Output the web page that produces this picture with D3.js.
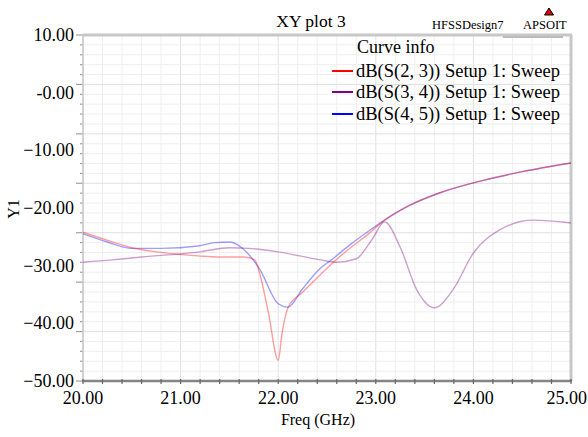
<!DOCTYPE html>
<html>
<head>
<meta charset="utf-8">
<script src="https://cdn.jsdelivr.net/npm/d3@7"></script>
<style>
  body { margin: 0; background: #fff; }
  svg { display: block; }
  .grid line { stroke: #efefef; stroke-width: 1; }
  .grid line.major { stroke: #e0e0e0; }
  .curve { fill: none; stroke-width: 1.4; stroke-opacity: 0.38; }
</style>
</head>
<body>
<div id="chart"></div>
<script>
// series: [freq GHz, dB]
var s23 = [
  [20.0, -24.2], [20.25, -25.6], [20.5, -26.9], [20.8, -27.7], [21.18, -28.3],
  [21.4, -28.5], [21.65, -28.5], [21.76, -29.0], [21.82, -32.0], [21.9, -38.2],
  [22.0, -46.4], [22.04, -41.7], [22.1, -37.3], [22.25, -34.6], [22.43, -31.6],
  [22.56, -29.5], [22.74, -26.9], [22.91, -24.7], [23.09, -22.1], [23.34, -19.6],
  [23.65, -17.4], [24.1, -15.2], [24.5, -13.7], [25.0, -12.2]
]
var s34 = [
  [20.0, -29.4], [20.3, -29.0], [20.6, -28.5], [21.2, -27.6], [21.5, -26.9],
  [21.7, -27.0], [22.0, -27.6], [22.43, -29.0], [22.6, -29.4], [22.8, -28.8],
  [22.96, -25.5], [23.09, -22.4], [23.25, -26.8], [23.42, -34.2], [23.6, -37.3],
  [23.79, -34.2], [24.0, -27.8], [24.27, -23.8], [24.61, -22.1], [25.0, -22.6]
]
var s45 = [
  [20.0, -24.5], [20.25, -25.9], [20.5, -27.0], [20.8, -27.0], [21.18, -26.6],
  [21.35, -26.0], [21.5, -25.9], [21.62, -26.8], [21.81, -30.6], [22.0, -36.6],
  [22.1, -37.2], [22.25, -34.0], [22.43, -30.5], [22.56, -28.8], [22.74, -26.3],
  [22.91, -24.2], [23.09, -22.1], [23.34, -19.6], [23.65, -17.4], [24.1, -15.2],
  [24.5, -13.7], [25.0, -12.2]
]
var seriesNames = ['dB(S(2, 3)) Setup 1: Sweep', 'dB(S(3, 4)) Setup 1: Sweep', 'dB(S(4, 5)) Setup 1: Sweep']
var seriesColors = ['#ff0000', '#800080', '#0000ff']
var xTicks = [20, 21, 22, 23, 24, 25]
var yTicks = [10, 0, -10, -20, -30, -40, -50]

var W = 588, H = 437
var m = {left: 83, right: 17, top: 35, bottom: 56}
var serif = '"Liberation Serif", "Times New Roman", Times, "DejaVu Serif", serif'

var svg = d3.select('#chart').append('svg').attr('width', W).attr('height', H)
  .attr('font-family', serif)

var x = d3.scaleLinear().domain([20, 25]).range([m.left, W - m.right])
var y = d3.scaleLinear().domain([-50, 10]).range([H - m.bottom, m.top])

// grid: vertical every 0.2 GHz, horizontal in 7 major steps with 5 minor each
var grid = svg.append('g').attr('class', 'grid')
d3.range(0, 26).forEach(function(i){
  var f = 20 + i * 0.2
  grid.append('line')
    .attr('class', i % 5 == 0 ? 'major' : 'minor')
    .attr('x1', x(f)).attr('x2', x(f)).attr('y1', y(-50)).attr('y2', y(10))
})
var yStep = 60 / 35
d3.range(0, 36).forEach(function(i){
  var v = 10 - i * yStep
  grid.append('line')
    .attr('class', i % 5 == 0 ? 'major' : 'minor')
    .attr('x1', x(20)).attr('x2', x(25)).attr('y1', y(v)).attr('y2', y(v))
})

// left axis ticks
d3.range(0, 36).forEach(function(i){
  var v = 10 - i * yStep
  svg.append('line')
    .attr('x1', x(20) - (i % 5 == 0 ? 7 : 3)).attr('x2', x(20))
    .attr('y1', y(v)).attr('y2', y(v))
    .attr('stroke', '#a0a0a0').attr('stroke-width', 1.2)
})
svg.append('line').attr('x1', x(20)).attr('x2', x(20)).attr('y1', y(10)).attr('y2', y(-50))
  .attr('stroke', '#c8c8c8').attr('stroke-width', 1.5)

// frame top/right
svg.append('line').attr('x1', x(20)).attr('x2', x(25) + 1).attr('y1', y(10)).attr('y2', y(10))
  .attr('stroke', '#c8c8c8').attr('stroke-width', 3)
svg.append('line').attr('x1', x(25)).attr('x2', x(25)).attr('y1', y(10)).attr('y2', y(-50))
  .attr('stroke', '#c8c8c8').attr('stroke-width', 3)

// curves
var line = d3.line().x(function(d){ return x(d[0]) }).y(function(d){ return y(d[1]) })
  .curve(d3.curveMonotoneX)
;[[s34, 1, 0.28], [s45, 2, 0.38], [s23, 0, 0.38]].forEach(function(p){
  svg.append('path').attr('class', 'curve').attr('d', line(p[0]))
    .attr('stroke', seriesColors[p[1]]).attr('stroke-opacity', p[2])
})

// bottom axis
svg.append('line').attr('x1', x(20) - 1).attr('x2', x(25) + 1).attr('y1', y(-50)).attr('y2', y(-50))
  .attr('stroke', '#858585').attr('stroke-width', 2.5)
d3.range(0, 26).forEach(function(i){
  var f = 20 + i * 0.2
  svg.append('line').attr('x1', x(f)).attr('x2', x(f))
    .attr('y1', y(-50) - 2).attr('y2', y(-50) + 3)
    .attr('stroke', '#666').attr('stroke-width', 1.2)
})

// tick labels (last one kept inside the window)
svg.selectAll('.xl').data(xTicks).enter().append('text')
  .attr('x', function(d, i){ return i == xTicks.length - 1 ? W - 1 : x(d) })
  .attr('y', y(-50) + 23)
  .attr('text-anchor', function(d, i){ return i == xTicks.length - 1 ? 'end' : 'middle' })
  .style('font-size', '18px')
  .text(function(d){ return d3.format('.2f')(d) })
svg.selectAll('.yl').data(yTicks).enter().append('text')
  .attr('x', 74).attr('y', function(d){ return y(d) + 6 })
  .attr('text-anchor', 'end').style('font-size', '18px')
  .text(function(d){ return d == 0 ? '-0.00' : d3.format('.2f')(d) })

// axis titles
svg.append('text').attr('x', 318).attr('y', 425).attr('text-anchor', 'middle')
  .style('font-size', '16px').text('Freq (GHz)')
svg.append('text').attr('transform', 'translate(19,209) rotate(-90)').attr('text-anchor', 'middle')
  .style('font-size', '16px').text('Y1')

// header
svg.append('text').attr('x', 311).attr('y', 27).attr('text-anchor', 'middle')
  .style('font-size', '17.5px').text('XY plot 3')
svg.append('text').attr('x', 432).attr('y', 29).style('font-size', '12.5px').text('HFSSDesign7')
svg.append('text').attr('x', 523).attr('y', 29).style('font-size', '12.5px').text('APSOIT')
svg.append('path').attr('d', 'M549,8 L553.5,15 L544.5,15 Z')
  .attr('fill', '#e00000').attr('stroke', '#000').attr('stroke-width', 1)
svg.append('line').attr('x1', 503).attr('x2', 563).attr('y1', 37).attr('y2', 37)
  .attr('stroke', '#bbb').attr('stroke-width', 2)

// legend
var lg = svg.append('g')
lg.append('text').attr('x', 357).attr('y', 53).style('font-size', '18px').text('Curve info')
seriesNames.forEach(function(n, i){
  var yy = [71, 92, 114][i]
  lg.append('line').attr('x1', 332).attr('x2', 353).attr('y1', yy).attr('y2', yy)
    .attr('stroke', seriesColors[i]).attr('stroke-width', 2)
  lg.append('text').attr('x', 356).attr('y', yy + 6).style('font-size', '18.5px').text(n)
})
</script>
</body>
</html>
